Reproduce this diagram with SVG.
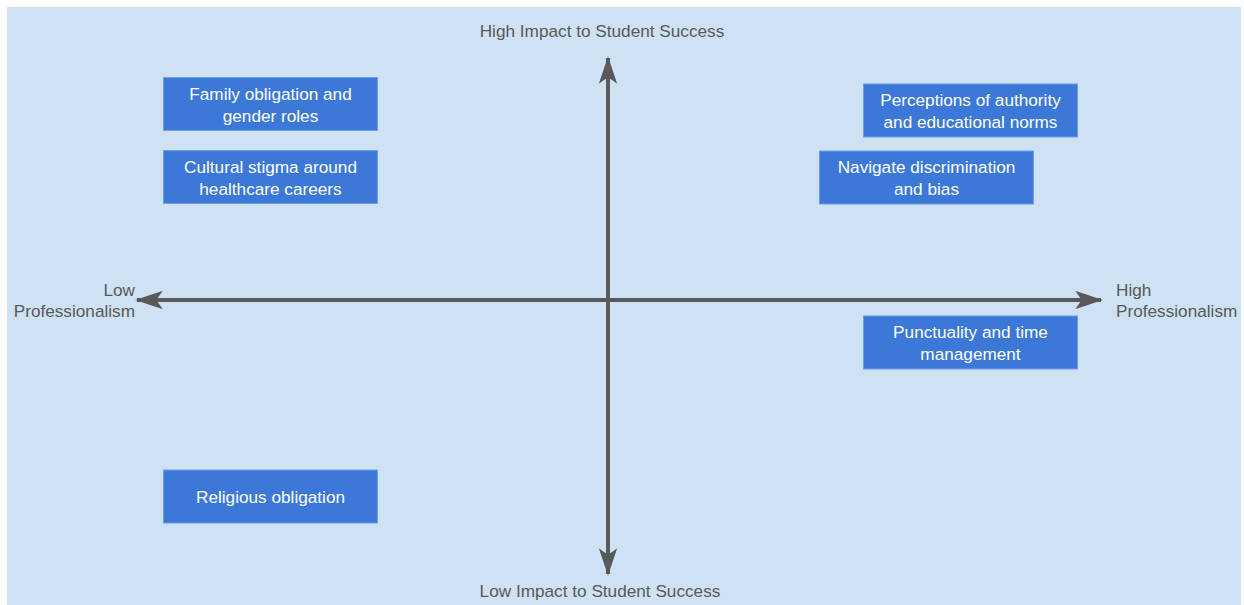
<svg xmlns="http://www.w3.org/2000/svg" width="1244" height="605" viewBox="0 0 1244 605">
  <style>
    .axis { stroke: #595959; stroke-width: 4; fill: none; }
    .axis-label { font-family: "Liberation Sans", Arial, sans-serif; font-size: 17.2px; fill: #595959; }
    .box { fill: #3c78d8; stroke: #6d9eeb; stroke-width: 1; }
    .box-text { font-family: "Liberation Sans", Arial, sans-serif; font-size: 17.2px; fill: #ffffff; text-anchor: middle; }
  </style>
  <defs>
    <marker id="arrow" viewBox="0 0 30 20" refX="28" refY="10" markerWidth="7" markerHeight="4.6" markerUnits="strokeWidth" orient="auto-start-reverse">
      <path d="M0,0 L30,10 L0,20 L7,10 Z" fill="#595959"/>
    </marker>
  </defs>

  <rect x="7" y="7" width="1234" height="598" fill="#cfe2f3"/>

  <g id="connectors">
    <line class="axis" x1="608" y1="574" x2="608" y2="58" marker-end="url(#arrow)" marker-start="url(#arrow)"/>
    <line class="axis" x1="137" y1="300" x2="1101" y2="300" marker-end="url(#arrow)" marker-start="url(#arrow)"/>
  </g>

  <g id="axis-labels">
    <text class="axis-label" x="602" y="37" text-anchor="middle">High Impact to Student Success</text>
    <text class="axis-label" x="600" y="597" text-anchor="middle">Low Impact to Student Success</text>
    <text class="axis-label" x="135" y="296" text-anchor="end">Low</text>
    <text class="axis-label" x="135" y="317" text-anchor="end">Professionalism</text>
    <text class="axis-label" x="1116" y="296">High</text>
    <text class="axis-label" x="1116" y="317">Professionalism</text>
  </g>

  <g id="family">
    <rect class="box" x="163.5" y="77.5" width="214" height="53"/>
    <text class="box-text" x="270.5" y="100">Family obligation and</text>
    <text class="box-text" x="270.5" y="122">gender roles</text>
  </g>

  <g id="cultural">
    <rect class="box" x="163.5" y="150.5" width="214" height="53"/>
    <text class="box-text" x="270.5" y="173">Cultural stigma around</text>
    <text class="box-text" x="270.5" y="195">healthcare careers</text>
  </g>

  <g id="perceptions">
    <rect class="box" x="863.5" y="84" width="214" height="53"/>
    <text class="box-text" x="970.5" y="106">Perceptions of authority</text>
    <text class="box-text" x="970.5" y="128">and educational norms</text>
  </g>

  <g id="navigate">
    <rect class="box" x="819.5" y="151" width="214" height="53"/>
    <text class="box-text" x="926.5" y="173">Navigate discrimination</text>
    <text class="box-text" x="926.5" y="195">and bias</text>
  </g>

  <g id="punctuality">
    <rect class="box" x="863.5" y="316" width="214" height="53"/>
    <text class="box-text" x="970.5" y="338">Punctuality and time</text>
    <text class="box-text" x="970.5" y="360">management</text>
  </g>

  <g id="religious">
    <rect class="box" x="163.5" y="470" width="214" height="53"/>
    <text class="box-text" x="270.5" y="503">Religious obligation</text>
  </g>
</svg>
